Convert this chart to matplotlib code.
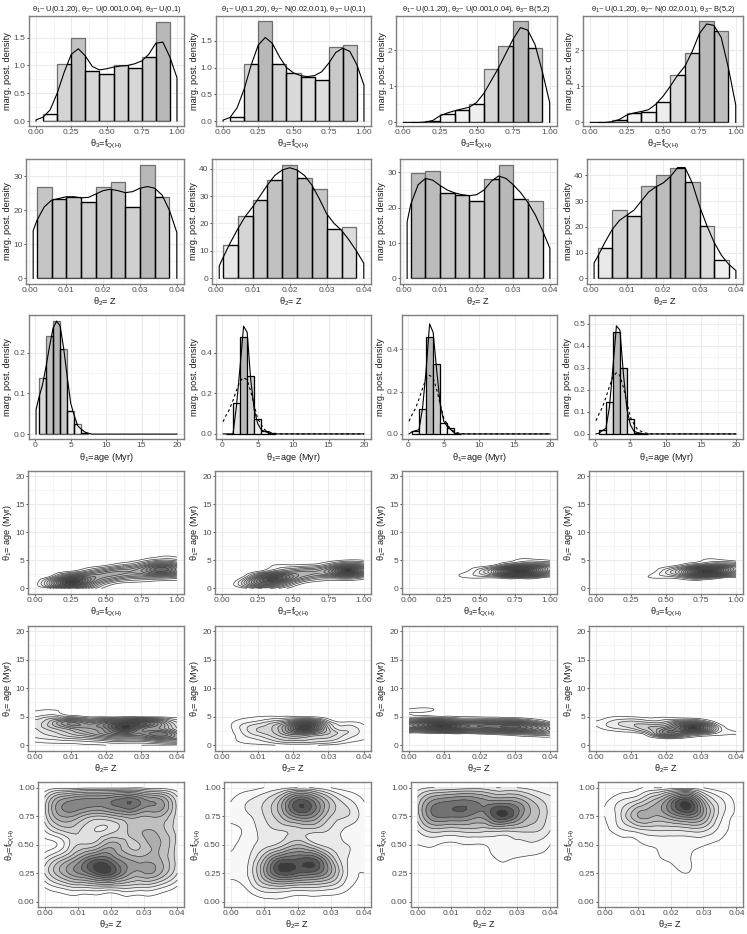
import numpy as np
import matplotlib
matplotlib.use("Agg")
import matplotlib.pyplot as plt
import matplotlib.tri as mtri
from matplotlib.patches import Polygon

plt.rcParams['font.family'] = ['Liberation Sans', 'DejaVu Sans']
plt.rcParams['mathtext.fontset'] = 'custom'
plt.rcParams['mathtext.rm'] = 'Liberation Sans'
plt.rcParams['mathtext.it'] = 'Liberation Sans'
plt.rcParams['mathtext.bf'] = 'Liberation Sans'
plt.rcParams['mathtext.default'] = 'regular'

W, H = 747, 934

titles = ["θ$_1$~ U(0.1,20), θ$_2$~ U(0.001,0.04), θ$_3$~ U(0,1)",
          "θ$_1$~ U(0.1,20), θ$_2$~ N(0.02,0.01), θ$_3$~ U(0,1)",
          "θ$_1$~ U(0.1,20), θ$_2$~ U(0.001,0.04), θ$_3$~ B(5,2)",
          "θ$_1$~ U(0.1,20), θ$_2$~ N(0.02,0.01), θ$_3$~ B(5,2)"]

# histogram heights, f_Q(H)
f_bins = [0.05, 0.15, 0.25, 0.35, 0.45, 0.55, 0.65, 0.75, 0.85, 0.95]
f_hist = [[.12, 1.02, 1.5, .9, .85, 1.01, .96, 1.16, 1.79],
          [.07, 1.07, 1.87, 1.07, .9, .83, .77, 1.39, 1.42],
          [0, .03, .22, .34, .5, 1.47, 2.1, 2.8, 2.06],
          [0, .06, .25, .3, .55, 1.3, 1.92, 2.8, 2.53]]
f_x = [0, .05, .1, .15, .2, .25, .3, .35, .4, .45, .5, .55, .6, .65, .7, .75, .8, .85, .9, .95, 1]
f_dens = [[.02, .07, .2, .5, .88, 1.2, 1.3, 1.17, .98, .92, .94, .97, .99, 1.0, 1.03, 1.08, 1.2, 1.4, 1.42, 1.15, .78],
          [.02, .07, .25, .6, 1.05, 1.42, 1.56, 1.45, 1.2, 1.0, .9, .85, .83, .85, .92, 1.08, 1.28, 1.36, 1.3, 1.05, .67],
          [0, 0, 0, .01, .05, .18, .26, .32, .37, .42, .55, .8, 1.15, 1.5, 1.9, 2.3, 2.62, 2.55, 2.15, 1.4, .55],
          [0, 0, 0, .02, .08, .2, .26, .3, .35, .5, .72, 1.0, 1.3, 1.55, 1.95, 2.45, 2.72, 2.68, 2.35, 1.5, .48]]

# histogram heights, Z
z_bins = [.002, .006, .01, .014, .018, .022, .026, .03, .034, .038]
z_hist = [[26.8, 23.2, 23.9, 22.4, 26.8, 28.2, 21, 33.4, 23.9],
          [12.1, 22.7, 28.4, 35.7, 41.4, 36.5, 32.4, 17.9, 18.6],
          [29.8, 30.5, 24.3, 23.5, 22, 28.2, 32.1, 22.6, 21.9],
          [11.8, 26.6, 24.2, 35.9, 40, 43, 37.5, 20.4, 7]]
z_x = [.001, .002, .004, .006, .008, .01, .012, .014, .016, .018, .02, .022, .024, .026, .028, .03, .032, .034, .036, .038, .04]
z_dens = [[14, 17, 21, 23, 23.5, 24, 24, 23.7, 23.8, 24.8, 25.8, 26.2, 25.8, 25.2, 25.5, 26.5, 27, 26.5, 24.5, 20, 13.5],
          [4.5, 7.5, 13, 18, 22.5, 26, 30, 34, 37.5, 39.5, 40.3, 39.5, 37.5, 34, 29, 23.5, 20, 17.5, 14, 10, 5.5],
          [16, 21, 26.5, 28.3, 27.8, 26.3, 25, 24.2, 23.7, 23.4, 23.7, 25, 27.5, 29, 28.3, 26.5, 24.3, 21.5, 18, 13.5, 8.5],
          [6, 8.5, 14, 19, 22.5, 24.5, 26.5, 30, 33.5, 35.5, 37, 39.5, 43, 43, 37, 28, 20.5, 14, 9, 5.5, 3]]

# histogram heights, age
age_bins = [.5, 1.5, 2.5, 3.5, 4.5, 5.5, 6.5, 7.5]
age_hist = [[.137, .241, .277, .209, .056, .024, .003],
            [0, .15, .475, .283, .075, .015, .005],
            [.015, .12, .46, .33, .05, .028, 0],
            [.02, .145, .46, .298, .068, .006, 0]]
age_x = [.1, .5, 1, 1.5, 2, 2.5, 3, 3.5, 4, 4.5, 5, 5.5, 6, 6.5, 7, 7.5, 8, 20]
age_dens = [[.06, .09, .12, .165, .215, .26, .277, .265, .21, .14, .075, .045, .02, .012, .005, .002, 0, 0],
            [0, 0, 0, 0, .14, .33, .53, .5, .27, .12, .05, .02, .012, .006, .002, 0, 0, 0],
            [0, .01, .015, .02, .12, .3, .52, .48, .3, .14, .06, .035, .02, .005, 0, 0, 0, 0],
            [0, .003, .015, .025, .12, .3, .49, .47, .27, .11, .04, .012, .006, .003, 0, 0, 0, 0]]

# contour density tables, rows are y values, columns x values
grid_f = [0, .125, .25, .375, .5, .625, .75, .875, 1]
grid_z = [0, .005, .01, .015, .02, .025, .03, .035, .04]
grid_age = [0, 1, 2, 3, 4, 5, 6, 7]

age_f = [
    [[0, 1.5, 7, 4, .5, 0, 0, 0, 0],
     [.2, 7, 14, 9, 3, 1, .7, .3, .2],
     [0, 2.5, 9, 9, 7, 5, 4, 4, 3],
     [0, .3, 1.2, 3.5, 6, 7, 8, 11, 8],
     [0, 0, .1, .5, 1.3, 3, 5.5, 9.5, 7],
     [0, 0, 0, 0, .2, .4, 1.3, 3, 2.5],
     [0, 0, 0, 0, 0, 0, .2, .8, .6],
     [0, 0, 0, 0, 0, 0, 0, 0, 0]],
    [[0, .2, 2.5, 2.5, .3, 0, 0, 0, 0],
     [0, 2.5, 9, 9, 3.5, .7, .3, .2, .1],
     [0, .4, 7, 12, 8, 4.5, 3.5, 4.5, 2.5],
     [0, 0, 1, 4, 5.5, 6, 8, 13, 8],
     [0, 0, 0, 1.2, 1.5, 2, 4, 8, 5.5],
     [0, 0, 0, .05, .1, .3, .5, 1.2, 1],
     [0, 0, 0, 0, 0, 0, 0, 0, 0],
     [0, 0, 0, 0, 0, 0, 0, 0, 0]],
    [[0, 0, 0, 0, 0, 0, 0, 0, 0],
     [0, 0, 0, 0, 0, 0, .1, .1, 0],
     [0, 0, .1, 1, 1.5, 2, 4, 3.5, .8],
     [0, 0, 0, .7, 3, 9, 18, 15, 6],
     [0, 0, 0, 0, .5, 2.5, 7.5, 8.5, 6],
     [0, 0, 0, 0, 0, .2, 1, 1.6, 1],
     [0, 0, 0, 0, 0, 0, 0, .05, 0],
     [0, 0, 0, 0, 0, 0, 0, 0, 0]],
    [[0, 0, 0, 0, 0, 0, 0, 0, 0],
     [0, 0, 0, 0, 0, 0, 0, 0, 0],
     [0, 0, 0, 1, 1.5, 3, 5.5, 3, 1.3],
     [0, 0, 0, .3, 3, 8, 16, 14, 6],
     [0, 0, 0, 0, .5, 2.5, 6, 7.5, 6],
     [0, 0, 0, 0, 0, .1, .9, 1.4, .5],
     [0, 0, 0, 0, 0, 0, 0, 0, 0],
     [0, 0, 0, 0, 0, 0, 0, 0, 0]],
]

age_z = [
    [[.5, .5, .5, .8, 1, 1.1, 1, .9, .6],
     [1.5, 2, 2.5, 3, 4, 4.5, 4.5, 6, 6],
     [2.5, 3.5, 5, 6.5, 8.5, 10, 9, 11, 7],
     [3, 5, 7, 8, 10, 14, 10, 8, 4],
     [3.5, 6, 9, 7, 9, 11, 12, 8, 3],
     [2, 3, 2.2, 1, .9, 1.1, 1, .8, .7],
     [1, 1.2, .5, .1, 0, 0, 0, 0, 0],
     [0, 0, 0, 0, 0, 0, 0, 0, 0]],
    [[0, .6, .8, 1, 1.3, 1.2, .7, .2, 0],
     [0, 1.2, 2, 3.5, 4.5, 4, 3.5, 2, 1],
     [0, 1.6, 3.5, 5, 7.5, 7, 5, 3, 1.5],
     [0, 2, 4, 5.5, 11, 13, 5, 2.5, 1.3],
     [0, 1.5, 2.5, 4, 7, 9, 3, 1.2, .7],
     [0, .6, 1, 1.2, 1.2, 1, .4, 0, 0],
     [0, 0, 0, 0, 0, 0, 0, 0, 0],
     [0, 0, 0, 0, 0, 0, 0, 0, 0]],
    [[0, 0, 0, 0, 0, 0, 0, 0, 0],
     [0, 0, 0, 0, .1, .2, .3, .4, .4],
     [.2, .3, .4, .8, 1.2, 2, 3, 3.5, 3],
     [8, 10, 13, 11, 10, 11, 12, 10, 6],
     [7, 11, 11, 8, 8, 8, 8, 5, 1.5],
     [1.8, 1.8, 1.4, 1.05, .9, .7, .3, .1, 0],
     [1.1, 1.2, .3, 0, 0, 0, 0, 0, 0],
     [0, 0, 0, 0, 0, 0, 0, 0, 0]],
    [[0, 0, 0, 0, 0, 0, 0, 0, 0],
     [0, 0, 0, 0, 0, 0, 0, 0, 0],
     [0, .1, .4, 2.5, 8, 6, 3.5, 1.5, 1.1],
     [.6, 2, 3, 5, 7, 11, 11, 3, .5],
     [1.2, 2.5, 3.5, 3, 3.5, 6, 5, .6, 0],
     [.1, 1, 1, .7, .8, .3, 0, 0, 0],
     [0, 0, 0, 0, 0, 0, 0, 0, 0],
     [0, 0, 0, 0, 0, 0, 0, 0, 0]],
]

f_z = [
    [[.2, .3, .3, .3, .3, .3, .3, .3, .2],
     [1, 2.2, 3, 3.3, 3.2, 3.3, 3, 2.2, .8],
     [3, 6, 8, 10, 10.5, 7.5, 7, 6, 3],
     [2, 4.5, 7, 9.5, 9, 7, 6.5, 6, 3.5],
     [.5, 1.5, 4, 4.5, 6.5, 5, 5.5, 6, 3.5],
     [2, 4, 4.2, 3, 3.5, 5, 6, 5.5, 3.5],
     [3.5, 7, 6.5, 5, 5.5, 6.5, 6, 6, 3.5],
     [3.5, 7.5, 8.5, 8.5, 9, 10, 8.5, 7.5, 3.5],
     [1, 1.5, 1.5, 1.7, 1.7, 1.7, 1.7, 1.5, 1]],
    [[0, 0, .5, .8, .6, .5, .3, 0, 0],
     [.5, 1.2, 3, 3.5, 3, 3, 2.5, 1.2, .5],
     [1.3, 2, 6, 9.5, 9, 8.5, 6, 2, 1],
     [1.2, 1.8, 5, 8.5, 9, 9, 5, 2, 1.2],
     [.8, 1.5, 2.5, 3.5, 5, 3.5, 2.5, 2, 1.2],
     [.8, 1.3, 2.5, 3, 3.5, 3.5, 2.8, 1.7, 1],
     [1.2, 1.8, 3, 5, 7.5, 7, 4, 3, 1.2],
     [1, 2, 3, 5.5, 9.5, 8, 4.5, 2.5, 1],
     [.1, .5, 1, 1.5, 2, 1.8, 1, .5, .1]],
    [[0, 0, 0, 0, 0, 0, 0, 0, 0],
     [0, 0, 0, 0, 0, 0, 0, 0, 0],
     [0, 0, 0, 0, .1, .7, .3, 0, 0],
     [.1, .7, .5, .3, .5, 1.1, .9, .7, .5],
     [1, 1.1, .8, 1, 1, 1.6, 1.8, 1.8, 1],
     [2, 3.5, 3.2, 3.5, 3.3, 3.3, 3.3, 3.2, 2],
     [3.5, 7, 7.2, 7, 6.5, 9, 7, 4.5, 2.5],
     [3.5, 6.5, 7.2, 7.4, 6.5, 6.5, 6, 4, 2.5],
     [1.5, 2, 2.2, 2.5, 2.5, 2, 2, 1.5, 1]],
    [[0, 0, 0, 0, 0, 0, 0, 0, 0],
     [0, 0, 0, 0, 0, 0, 0, 0, 0],
     [0, 0, 0, 0, .3, 1, 0, 0, 0],
     [0, 0, 0, .7, 1.2, 1.2, .2, 0, 0],
     [0, .3, .8, 1.1, 1.3, 1.3, 1.1, .7, .4],
     [.5, 1.8, 2.5, 3, 3, 3.2, 3.2, 1.6, .5],
     [1, 3, 6, 6, 7, 8.5, 6.5, 2.5, .7],
     [.8, 2.2, 3.5, 5.5, 8.5, 11, 6, 2.5, .7],
     [0, .2, .8, 1, 1.3, 1.3, 1, .3, 0]],
]

# panel edges in pixels: left per column, then (top, bottom) per row
right_edges = [184, 371, 557, 743]
left_edges = [[29, 216, 396, 583],
              [26, 212, 400, 587],
              [29, 216, 402, 589],
              [28, 215, 402, 589],
              [28, 215, 402, 589],
              [38, 224, 411, 598]]
row_edges = [(16, 126), (159, 284), (315, 439), (471, 594), (626, 751), (782, 907)]

f_ylims = [(-.09, 1.89), (-.09, 1.96), (-.1, 2.94), (-.1, 2.94)]
z_ylims = [(-1.67, 35.1), (-2.08, 43.5), (-1.6, 33.8), (-2.2, 46.3)]
age_ylims = [(-.012, .292), (-.025, .585), (-.024, .562), (-.023, .539)]
f_yticks = [[0, .5, 1, 1.5], [0, .5, 1, 1.5], [0, 1, 2], [0, 1, 2]]
z_yticks = [[0, 10, 20, 30], [0, 10, 20, 30, 40], [0, 10, 20, 30], [0, 10, 20, 30, 40]]
age_yticks = [[0, .1, .2], [0, .2, .4], [0, .2, .4], [0, .1, .2, .3, .4, .5]]

f_ticks = [0, .25, .5, .75, 1]
z_ticks = [0, .01, .02, .03, .04]
age_ticks = [0, 5, 10, 15, 20]

label_f = "θ$_3$=f$_{Q(H)}$"
label_z = "θ$_2$= Z"
label_age = "θ$_1$=age (Myr)"
label_age2 = "θ$_1$= age (Myr)"
label_dens = "marg. post. density"

LABEL = 6.6
TICK = 6.0


def new_axes(fig, row, col):
    l, r = left_edges[row][col], right_edges[col]
    t, b = row_edges[row]
    ax = fig.add_axes([l / W, 1 - b / H, (r - l) / W, (b - t) / H])
    ax.set_axisbelow(True)
    for s in ax.spines.values():
        s.set_color('#7f7f7f')
        s.set_linewidth(1.0)
    ax.tick_params(length=1.6, width=.6, color='#333333', labelcolor='#4d4d4d',
                   labelsize=TICK, pad=.8)
    return ax


def finish(ax, xlim, ylim, xticks, yticks, xfmt, yfmt, xlabel, ylabel):
    ax.set_xlim(xlim)
    ax.set_ylim(ylim)
    ax.set_xticks(xticks)
    ax.set_yticks(yticks)
    ax.set_xticklabels([xfmt % v for v in xticks])
    ax.set_yticklabels([yfmt % v for v in yticks])
    xm = (np.array(xticks[:-1]) + np.array(xticks[1:])) / 2
    ym = (np.array(yticks[:-1]) + np.array(yticks[1:])) / 2
    ax.set_xticks(xm, minor=True)
    ax.set_yticks(ym, minor=True)
    ax.tick_params(which='minor', length=0)
    ax.grid(True, which='major', color='#ebebeb', lw=.8)
    ax.grid(True, which='minor', color='#f2f2f2', lw=.5)
    ax.set_xlabel(xlabel, fontsize=LABEL, color='#1a1a1a', labelpad=1.0)
    ax.set_ylabel(ylabel, fontsize=LABEL, color='#1a1a1a', labelpad=1.0)


def hist_panel(ax, bins, heights, xs, ys, all_black=False, ref=None):
    bins = np.array(bins)
    h = np.array(heights)
    shades = .98 - .26 * h / h.max()
    cols = [str(round(float(s), 3)) for s in shades]
    kw = dict(x=bins[:-1], height=h, width=np.diff(bins), align='edge')
    ax.bar(color=cols, edgecolor='black' if all_black else '#6e6e6e',
           linewidth=.9, zorder=2, **kw)
    px = [xs[0]] + list(xs) + [xs[-1]]
    py = [0] + list(ys) + [0]
    if not all_black:
        clip = Polygon(np.column_stack([px, py]), closed=True,
                       transform=ax.transData, fc='none', ec='none')
        ax.add_patch(clip)
        for b in ax.bar(color='none', edgecolor='black', linewidth=.9, zorder=3, **kw):
            b.set_clip_path(clip)
    ax.plot(px, py, color='black', lw=.8, zorder=4)
    if ref is not None:
        ax.plot(xs, ref, color='black', lw=.8, ls=(0, (2.5, 2.5)), zorder=4)


def contour_panel(ax, gx, gy, table, power):
    X, Y = np.meshgrid(gx, gy)
    Z = np.array(table, dtype=float)
    tri = mtri.Triangulation(X.ravel(), Y.ravel())
    refiner = mtri.UniformTriRefiner(tri)
    tri2, z2 = refiner.refine_field(Z.ravel(), subdiv=3)
    levels = np.arange(1, z2.max(), 1.0)
    bands = list(levels) + [z2.max() + 1]
    shades = [str(round(float(1 - .82 * (v / z2.max()) ** power), 3)) for v in levels]
    ax.tricontourf(tri2, z2, levels=bands, colors=shades, zorder=2)
    ax.tricontour(tri2, z2, levels=levels, colors='#404040', linewidths=.5, zorder=3)


fig = plt.figure(figsize=(W / 100, H / 100), dpi=100)

for c in range(4):
    # row 1, fraction
    ax = new_axes(fig, 0, c)
    hist_panel(ax, f_bins, f_hist[c], f_x, f_dens[c])
    finish(ax, (-.05, 1.05), f_ylims[c], f_ticks, f_yticks[c], '%.2f',
           '%.1f' if c < 2 else '%d', label_f, label_dens)
    ax.set_title(titles[c], fontsize=5.45, color='#1a1a1a', pad=3.5)

    # row 2, metallicity
    ax = new_axes(fig, 1, c)
    hist_panel(ax, z_bins, z_hist[c], z_x, z_dens[c])
    finish(ax, (-.00095, .04195), z_ylims[c], z_ticks, z_yticks[c], '%.2f', '%d',
           label_z, label_dens)

    # row 3, age, dashed curve is the uniform-prior run
    ax = new_axes(fig, 2, c)
    hist_panel(ax, age_bins, age_hist[c], age_x, age_dens[c], all_black=c > 0,
               ref=age_dens[0] if c > 0 else None)
    finish(ax, (-.9, 21), age_ylims[c], age_ticks, age_yticks[c], '%d', '%.1f',
           label_age, label_dens)

    # row 4
    ax = new_axes(fig, 3, c)
    contour_panel(ax, grid_f, grid_age, age_f[c], 1.3)
    finish(ax, (-.05, 1.05), (-1, 20.9), f_ticks, age_ticks, '%.2f', '%d', label_f, label_age2)

    # row 5
    ax = new_axes(fig, 4, c)
    contour_panel(ax, grid_z, grid_age, age_z[c], 1.3)
    finish(ax, (-.002, .042), (-1, 20.9), z_ticks, age_ticks, '%.2f', '%d', label_z, label_age2)

    # row 6
    ax = new_axes(fig, 5, c)
    contour_panel(ax, grid_z, grid_f, f_z[c], 1.4)
    finish(ax, (-.002, .042), (-.047, 1.05), z_ticks, f_ticks, '%.2f', '%.2f', label_z, label_f)

fig.savefig("out.png", dpi=100)
